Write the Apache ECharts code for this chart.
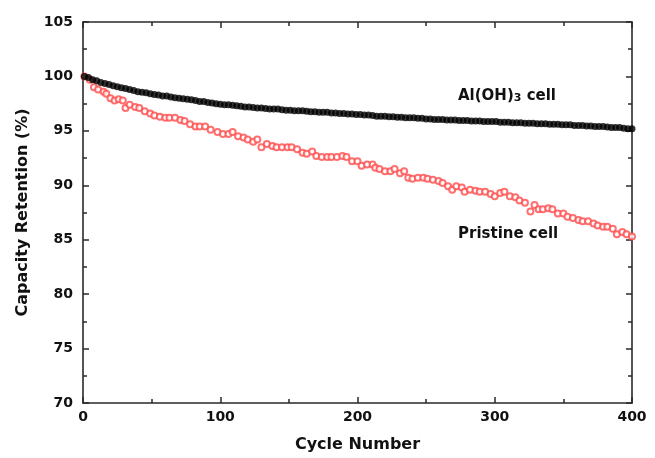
<!DOCTYPE html>
<html>
<head>
<meta charset="utf-8">
<script src="https://cdn.jsdelivr.net/npm/echarts@6/dist/echarts.min.js"></script>
<style>html,body{margin:0;padding:0;background:#fff}#c{width:655px;height:458px}</style>
</head>
<body>
<div id="c"></div>
<script>
var xTicks = [0, 100, 200, 300, 400];
var yTicks = [70, 75, 80, 85, 90, 95, 100, 105];

var alCycles = [1,4,7,10,13,16,19,22,25,28,31,34,37,40,43,46,49,52,55,58,61,64,67,70,73,76,79,82,85,88,91,94,97,100,103,106,109,112,115,118,121,124,127,130,133,136,139,142,145,148,151,154,157,160,163,166,169,172,175,178,181,184,187,190,193,196,199,202,205,208,211,214,217,220,223,226,229,232,235,238,241,244,247,250,253,256,259,262,265,268,271,274,277,280,283,286,289,292,295,298,301,304,307,310,313,316,319,322,325,328,331,334,337,340,343,346,349,352,355,358,361,364,367,370,373,376,379,382,385,388,391,394,397,400];
var alValues = [100.0,99.9,99.7,99.6,99.45,99.35,99.25,99.15,99.05,98.95,
98.9,98.8,98.7,98.6,98.55,98.5,98.4,98.35,98.3,98.2,
98.2,98.1,98.05,98.0,97.95,97.9,97.85,97.8,97.7,97.7,
97.6,97.55,97.5,97.45,97.4,97.4,97.35,97.3,97.25,97.2,
97.2,97.15,97.1,97.1,97.05,97.0,97.0,97.0,96.95,96.9,
96.9,96.85,96.85,96.85,96.8,96.75,96.75,96.7,96.7,96.7,
96.65,96.65,96.6,96.6,96.55,96.55,96.5,96.5,96.45,96.45,
96.4,96.35,96.35,96.35,96.3,96.3,96.25,96.25,96.2,96.2,
96.2,96.15,96.15,96.1,96.1,96.05,96.05,96.05,96.0,96.0,
96.0,95.95,95.95,95.95,95.9,95.9,95.9,95.85,95.85,95.85,
95.85,95.8,95.8,95.8,95.75,95.75,95.75,95.7,95.7,95.7,
95.65,95.65,95.65,95.6,95.6,95.6,95.55,95.55,95.55,95.5,
95.5,95.5,95.45,95.45,95.4,95.4,95.4,95.35,95.3,95.3,
95.3,95.25,95.2,95.2];

var prCycles = [1,5,8,11,15,17,20,23,26,29,31,34,38,41,45,49,52,56,60,63,67,71,74,78,82,85,89,93,98,102,106,109,113,117,120,124,127,130,134,138,141,145,149,152,156,160,163,167,170,174,178,181,185,189,192,196,200,203,207,211,213,216,220,224,227,231,234,237,240,244,248,251,255,259,262,266,269,272,276,278,282,286,289,293,297,300,304,307,311,315,318,322,326,329,332,335,339,342,346,350,353,357,361,364,368,372,375,379,382,386,389,393,396,400];
var prValues = [100.0,99.7,99.0,98.8,98.6,98.4,98.0,97.8,97.9,97.8,
97.1,97.4,97.2,97.1,96.8,96.6,96.4,96.3,96.2,96.2,
96.2,96.0,95.9,95.6,95.4,95.4,95.4,95.1,94.9,94.7,
94.7,94.9,94.5,94.4,94.2,94.0,94.2,93.5,93.8,93.6,
93.5,93.5,93.5,93.5,93.3,93.0,92.9,93.1,92.7,92.6,
92.6,92.6,92.6,92.7,92.6,92.2,92.2,91.8,91.9,91.9,
91.6,91.5,91.3,91.3,91.5,91.1,91.3,90.7,90.6,90.7,
90.7,90.6,90.5,90.4,90.2,89.9,89.6,89.9,89.8,89.4,
89.6,89.5,89.4,89.4,89.2,89.0,89.3,89.4,89.0,88.9,
88.6,88.4,87.6,88.2,87.8,87.8,87.9,87.8,87.4,87.4,
87.1,87.0,86.8,86.7,86.7,86.5,86.3,86.2,86.2,86.0,
85.5,85.7,85.5,85.3];

function pairs(xs, ys) { var out = []; for (var i = 0; i < xs.length; i++) out.push([xs[i], ys[i]]); return out; }

var FONT = '"DejaVu Sans", "Liberation Sans", Arial, sans-serif';
var AX = '#2a2a2a';
var chart = echarts.init(document.getElementById('c'), null, {renderer: 'canvas'});

function xAxisBase(pos, showLabels) {
  return {
    type: 'value', position: pos, min: 0, max: 400, interval: 100,
    axisLine: {show: true, onZero: false, lineStyle: {color: AX, width: 1.6}},
    axisTick: {show: true, inside: true, length: 6, lineStyle: {color: AX, width: 1.5}},
    minorTick: {show: true, splitNumber: 2, length: 4, lineStyle: {color: AX, width: 1.5}},
    splitLine: {show: false},
    axisLabel: {show: showLabels, color: '#111', fontFamily: FONT, fontWeight: 'bold', fontSize: 14, margin: 7,
      formatter: function (v) { return xTicks.indexOf(v) >= 0 ? String(v) : ''; }}
  };
}
function yAxisBase(pos, showLabels) {
  return {
    type: 'value', position: pos, min: 70, max: 105, interval: 5,
    axisLine: {show: true, onZero: false, lineStyle: {color: AX, width: 1.6}},
    axisTick: {show: true, inside: true, length: 6, lineStyle: {color: AX, width: 1.5}},
    minorTick: {show: true, splitNumber: 2, length: 4, lineStyle: {color: AX, width: 1.5}},
    splitLine: {show: false},
    axisLabel: {show: showLabels, color: '#111', fontFamily: FONT, fontWeight: 'bold', fontSize: 14, margin: 10,
      formatter: function (v) { return yTicks.indexOf(v) >= 0 ? String(v) : ''; }}
  };
}

var xb = xAxisBase('bottom', true);
xb.name = 'Cycle Number'; xb.nameLocation = 'middle'; xb.nameGap = 34;
xb.nameTextStyle = {color: '#111', fontFamily: FONT, fontWeight: 'bold', fontSize: 16};
var yl = yAxisBase('left', true);
yl.name = 'Capacity Retention (%)'; yl.nameLocation = 'middle'; yl.nameGap = 52;
yl.nameTextStyle = {color: '#111', fontFamily: FONT, fontWeight: 'bold', fontSize: 16};

chart.setOption({
  animation: false,
  backgroundColor: '#fff',
  grid: {left: 83, right: 23, top: 22, bottom: 53, containLabel: false},
  xAxis: [xb, xAxisBase('top', false)],
  yAxis: [yl, yAxisBase('right', false)],
  series: [
    {
      name: 'Pristine cell', type: 'scatter', xAxisIndex: 0, yAxisIndex: 0,
      symbol: 'emptyCircle', symbolSize: 6,
      itemStyle: {color: '#ff4d4d', borderColor: '#ff4d4d', borderWidth: 1},
      data: pairs(prCycles, prValues), z: 2
    },
    {
      name: 'Al(OH)3 cell', type: 'scatter', xAxisIndex: 0, yAxisIndex: 0,
      symbol: 'circle', symbolSize: 7,
      itemStyle: {color: '#000'},
      data: pairs(alCycles, alValues), z: 3
    }
  ],
  graphic: [
    {type: 'text', left: 458, top: 89, style: {
      text: '{n|Al(OH)}{s|3}{n| cell}',
      rich: {
        n: {fontFamily: FONT, fontWeight: 'bold', fontSize: 15, fill: '#111', verticalAlign: 'bottom'},
        s: {fontFamily: FONT, fontWeight: 'bold', fontSize: 11, fill: '#111', padding: [6, 0, 0, 0], verticalAlign: 'bottom'}
      }
    }},
    {type: 'text', left: 458, top: 227, style: {
      text: 'Pristine cell', fontFamily: FONT, fontWeight: 'bold', fontSize: 15, fill: '#111'
    }}
  ]
});
</script>
</body>
</html>
